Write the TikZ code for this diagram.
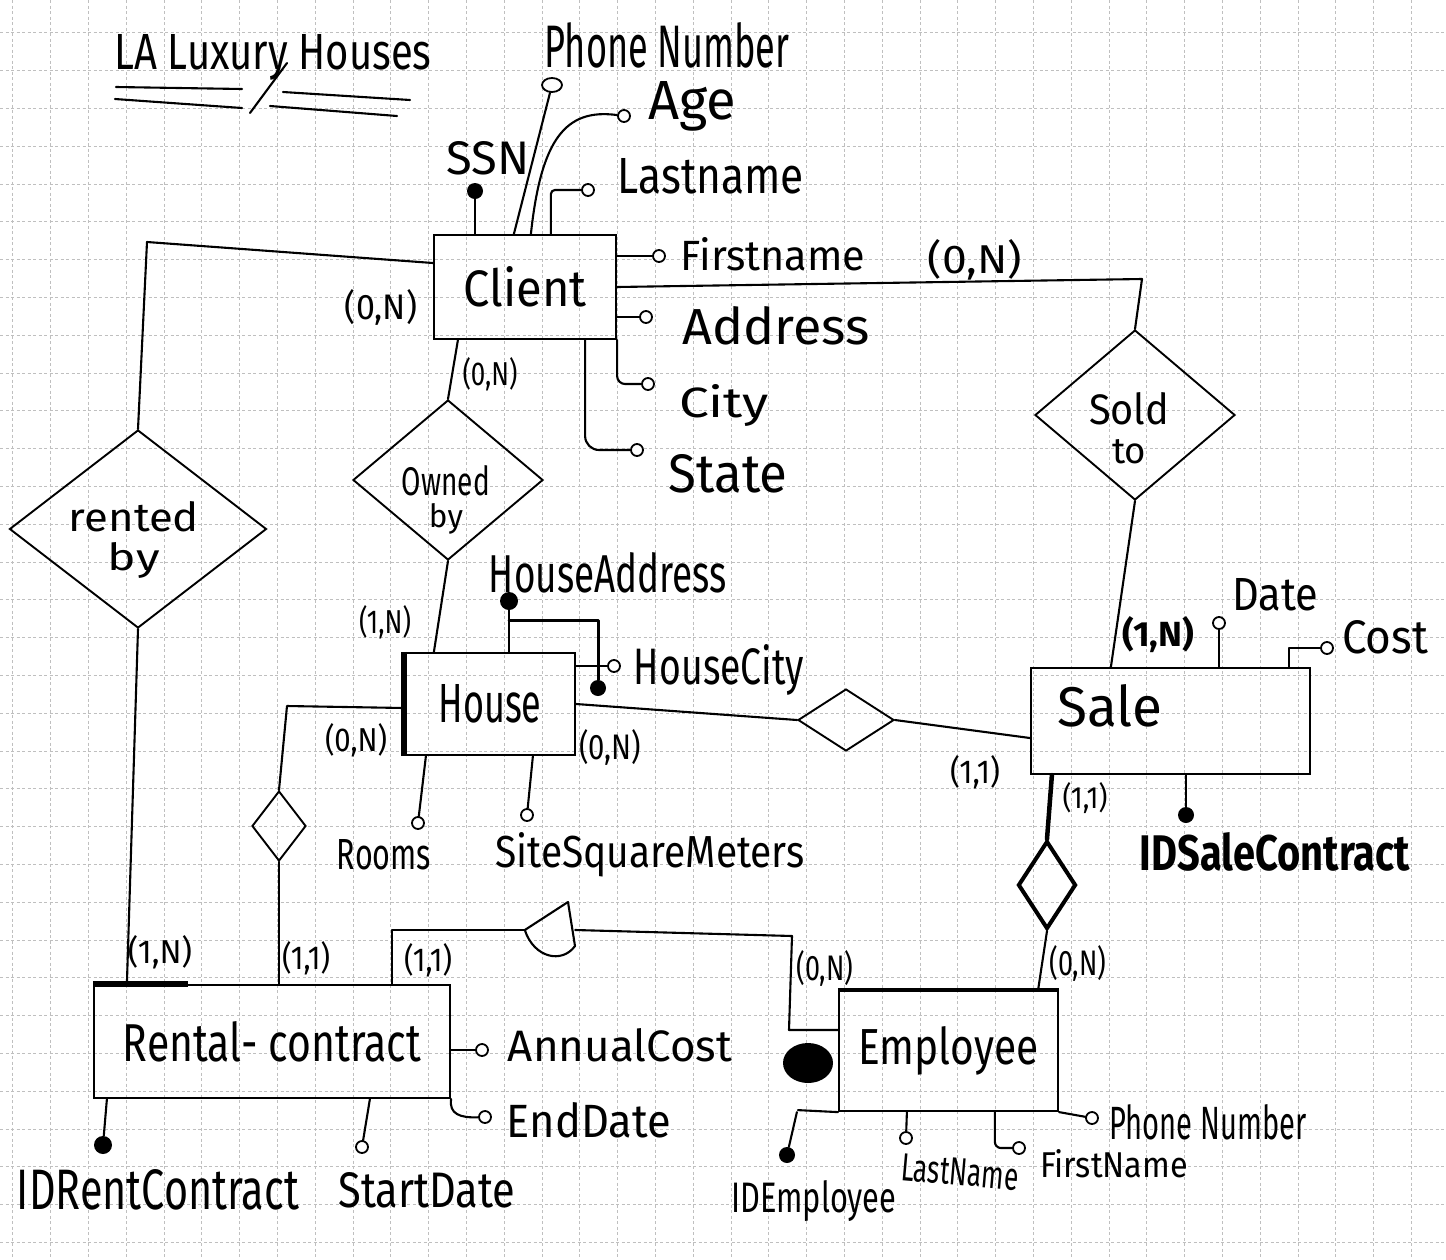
\documentclass[tikz,border=0pt]{standalone}
\usepackage{fontspec}
\setmainfont{Fira Sans}
\usetikzlibrary{shapes.geometric,calc}
\newcommand{\hwt}[3]{\resizebox{#1pt}{#2pt}{#3}}
\begin{document}
\begin{tikzpicture}[x=1pt,y=-1pt,
  gridln/.style={gray!50, line width=0.6pt, dash pattern=on 3pt off 2.5pt},
  ln/.style={line width=2.1pt, line cap=round, line join=round},
  thk/.style={line width=4.5pt, line cap=round},
  ent/.style={draw, rectangle, line width=2.2pt, inner sep=0pt},
  rel/.style={draw, diamond, line width=1.9pt, inner sep=0pt},
  attr/.style={draw, circle, line width=1.8pt, inner sep=0pt, minimum size=12pt, fill=white},
  keyattr/.style={circle, fill=black, inner sep=0pt, minimum size=16pt},
  txt/.style={inner sep=0pt}]
\useasboundingbox (0,0) rectangle (1446,1259);
\fill[white] (0,0) rectangle (1446,1259);
% grid paper
\foreach \k in {0,...,38} {\draw[gridln] ({12.7+37.8*\k},0) -- ({12.7+37.8*\k},1259);}
\foreach \k in {1,...,33} {\draw[gridln] (0,{-5.1+37.8*\k}) -- (1446,{-5.1+37.8*\k});}

% title
\node[txt] (title) at (273,57) {\hwt{317}{35}{LA Luxury Houses}};
\draw[ln] (116,87) -- (242,89);
\draw[ln] (115,99) -- (242,108);
\draw[ln] (250,113) -- (287,63);
\draw[ln] (283,92) -- (410,100);
\draw[ln] (270,106) -- (397,116);

% ---------- Client ----------
\node[ent, minimum width=182pt, minimum height=104pt] (client) at (525,287) {\hwt{123}{40}{Client}};
\node[keyattr] (ssn) at (475,191) {};
\node[attr, ellipse, minimum width=20pt, minimum height=14pt] (phone) at (552,85) {};
\node[attr] (age) at (624,116) {};
\node[attr] (lastn) at (588,190) {};
\node[attr] (firstn) at (659,256) {};
\node[attr] (addr) at (646,317) {};
\node[attr] (city) at (648,384) {};
\node[attr] (state) at (637,450) {};
\draw[ln] (ssn |- client.north) -- (ssn);
\draw[ln] ([xshift=81pt]client.north west) -- (phone);
\draw[ln] ([xshift=98pt]client.north west) .. controls (541,140) and (565,108) .. (age);
\draw[ln, rounded corners=4pt] ([xshift=118pt]client.north west) |- (lastn);
\draw[ln] (client.east |- firstn) -- (firstn);
\draw[ln] (client.east |- addr) -- (addr);
\draw[ln, rounded corners=8pt] (client.south east) |- (city);
\draw[ln, rounded corners=14pt] ([xshift=-32pt]client.south east) |- (state);
\node[txt] (tphone) at (667,45) {\hwt{245}{45}{Phone Number}};
\node[txt] (tage) at (692,106) {\hwt{88}{38}{Age}};
\node[txt] (tssn) at (488,158) {\hwt{83}{33}{SSN}};
\node[txt] (tlastn) at (711,176) {\hwt{186}{35}{Lastname}};
\node[txt] (tfirstn) at (773,254) {\hwt{185}{33}{Firstname}};
\node[txt] (taddr) at (776,326) {\hwt{187}{38}{Address}};
\node[txt] (tcity) at (724,405) {\hwt{90}{33}{City}};
\node[txt] (tstate) at (728,474) {\hwt{119}{38}{State}};

% ---------- rented by ----------
\coordinate (crn) at (147,242);
\node[rel, minimum width=257pt, minimum height=198pt] (rented) at (138,529) {};
\node[txt, align=center] (trented) at (134,540) {\hwt{130}{30}{rented}\\[10pt]\hwt{52}{28}{by}};
\draw[ln] ([yshift=24pt]client.west) -- (crn) -- (rented.north);
\node[txt] (k1) at (381,307) {\hwt{72}{30}{(0,N)}};

% ---------- owned by ----------
\node[rel, minimum width=190pt, minimum height=160pt] (owned) at (448,480) {};
\node[txt, align=center] (towned) at (446,500) {\hwt{88}{30}{Owned}\\[6pt]\hwt{34}{24}{by}};
\draw[ln] ([xshift=25pt]client.south west) -- (owned.north);
\node[txt] (k3) at (490,374) {\hwt{55}{28}{(0,N)}};

% ---------- House ----------
\node[ent, minimum width=170pt, minimum height=102pt] (house) at (490,704) {\hwt{103}{38}{House}};
\draw[line width=5.5pt] (house.north west) -- (house.south west);
\draw[ln] (owned.south) -- ([xshift=30pt]house.north west);
\node[txt] (k4) at (385,622) {\hwt{52}{28}{(1,N)}};
\node[keyattr, minimum size=18pt] (haddr) at (509,601) {};
\node[keyattr] (hkey) at (598,688) {};
\node[attr] (hcity) at (614,666) {};
\coordinate (hk1) at (509,620);
\draw[ln] (haddr |- house.north) -- (haddr);
\draw[ln, line width=3pt] (hk1) -| (hkey);
\draw[ln] (house.east |- hcity) -- (hcity);
\node[attr] (rooms) at (418,823) {};
\node[attr] (site) at (527,815) {};
\draw[ln] ([xshift=22pt]house.south west) -- (rooms);
\draw[ln] ([xshift=129pt]house.south west) -- (site);
\node[txt] (thaddr) at (608,573) {\hwt{238}{40}{HouseAddress}};
\node[txt] (thcity) at (719,670) {\hwt{170}{40}{HouseCity}};
\node[txt] (trooms) at (384,855) {\hwt{94}{30}{Rooms}};
\node[txt] (tsite) at (650,855) {\hwt{309}{35}{SiteSquareMeters}};

% House - Rental relationship
\node[rel, minimum width=54pt, minimum height=70pt] (hrrel) at (279,826) {};
\coordinate (hr1) at (287,706);
\draw[ln] ([yshift=-4pt]house.west) -- (hr1) -- (hrrel.north);
\node[txt] (k5) at (356,740) {\hwt{62}{28}{(0,N)}};

% House - Sale relationship
\node[rel, minimum width=96pt, minimum height=62pt] (hsrel) at (846,720) {};
\draw[ln] (house.east) -- (hsrel.west);
\node[txt] (k6) at (610,747) {\hwt{62}{30}{(0,N)}};

% ---------- Sale ----------
\node[ent, minimum width=279pt, minimum height=106pt] (sale) at (1170.5,721) {};
\node[txt] (tsale) at (1110,706) {\hwt{105}{42}{Sale}};
\draw[ln] (hsrel.east) -- ([yshift=-17pt]sale.west);
\node[txt] (k8) at (975,772) {\hwt{50}{28}{(1,1)}};

% Sold to
\node[rel, minimum width=200pt, minimum height=170pt] (sold) at (1135,415) {};
\node[txt, align=center] (tsold) at (1129,428) {\hwt{80}{32}{Sold}\\[14pt]\hwt{34}{24}{to}};
\coordinate (cs) at (1142,279);
\draw[ln] (client.east) -- (cs) -- (sold.north);
\draw[ln] (sold.south) -- ([xshift=81pt]sale.north west);
\node[txt] (k2) at (975,260) {\hwt{94}{34}{(0,N)}};
\node[txt] (k7) at (1158,635) {\hwt{72}{30}{\bfseries (1,N)}};

\node[attr] (date) at (1219,623) {};
\draw[ln] (date |- sale.north) -- (date);
\node[attr] (cost) at (1327,648) {};
\draw[ln] ([xshift=259pt]sale.north west) |- (cost);
\node[keyattr] (idsale) at (1186,815) {};
\draw[ln] (idsale |- sale.south) -- (idsale);
\node[txt] (tdate) at (1275,595) {\hwt{86}{32}{Date}};
\node[txt] (tcost) at (1385,637) {\hwt{86}{33}{Cost}};
\node[txt] (tidsale) at (1275,852) {\hwt{270}{38}{\bfseries IDSaleContract}};

% ---------- Employee ----------
\node[ent, minimum width=219pt, minimum height=120pt] (employee) at (948.5,1051) {\hwt{180}{38}{Employee}};
\draw[line width=4.5pt] (employee.north west) -- (employee.north east);
\draw[ln] (employee.south west) -- ++(-40,-2);

% Employee - Sale relationship
\node[rel, line width=4pt, minimum width=58pt, minimum height=88pt] (esrel) at (1047,885) {};
\draw[thk] ([xshift=22pt]sale.south west) -- (esrel.north);
\draw[ln] (esrel.south) -- ([xshift=-21pt]employee.north east);
\node[txt] (k9) at (1085,798) {\hwt{45}{26}{(1,1)}};
\node[txt] (k10) at (1078,963) {\hwt{57}{30}{(0,N)}};

\node[keyattr] (idemp) at (787,1155) {};
\draw[ln] ([xshift=-41pt]employee.south west) -- (idemp);
\node[attr] (lnemp) at (906,1138) {};
\draw[ln] ([xshift=69pt]employee.south west) -- (lnemp);
\node[attr] (fnemp) at (1019,1148) {};
\draw[ln, rounded corners=6pt] ([xshift=157pt]employee.south west) |- (fnemp);
\node[attr] (phemp) at (1092,1118) {};
\draw[ln] (employee.south east) -- (phemp);
\node[txt] (tidemp) at (814,1201) {\hwt{165}{32}{IDEmployee}};
\node[txt, rotate=-5] (tlnemp) at (960,1172) {\hwt{118}{27}{LastName}};
\node[txt] (tfnemp) at (1114,1164) {\hwt{148}{28}{FirstName}};
\node[txt] (tphemp) at (1208,1122) {\hwt{197}{35}{Phone Number}};

% ---------- Rental contract ----------
\node[ent, minimum width=356pt, minimum height=113pt] (rental) at (272,1041.5) {\hwt{298}{40}{Rental- contract}};
\draw[line width=5.5pt] (rental.north west) -- ++(95,0);
\draw[ln] (rented.south) -- ([xshift=34pt]rental.north west);
\draw[ln] (hrrel.south) -- (hrrel.south |- rental.north);
\node[txt] (k12) at (160,952) {\hwt{64}{28}{(1,N)}};
\node[txt] (k13) at (306,958) {\hwt{48}{28}{(1,1)}};
\node[txt] (k14) at (428,960) {\hwt{48}{28}{(1,1)}};

\node[attr] (annual) at (482,1050) {};
\draw[ln] (rental.east |- annual) -- (annual);
\node[attr] (enddate) at (485,1117) {};
\draw[ln] (rental.south east) .. controls (449,1114) and (460,1118) .. (enddate);
\node[keyattr, minimum size=18pt] (idrent) at (103,1145) {};
\draw[ln] ([xshift=14pt]rental.south west) -- (idrent);
\node[attr] (startdate) at (362,1147) {};
\draw[ln] ([xshift=277pt]rental.south west) -- (startdate);
\node[txt] (tannual) at (620,1045) {\hwt{224}{33}{AnnualCost}};
\node[txt] (tenddate) at (589,1120) {\hwt{164}{35}{EndDate}};
\node[txt] (tidrent) at (158,1190) {\hwt{282}{40}{IDRentContract}};
\node[txt] (tstart) at (427,1190) {\hwt{177}{35}{StartDate}};

% Rental - Employee relationship
\node[inner sep=0pt, minimum width=50pt, minimum height=56pt] (rerel) at (550,930) {};
\draw[ln] (rerel.west) -- (568,902) -- (575,946) .. controls (562,964) and (534,958) .. (rerel.west);
\coordinate (re1) at (792,936);
\coordinate (re2) at (789,1030);
\draw[ln] ([xshift=299pt]rental.north west) |- (rerel.west);
\draw[ln] (rerel.east) -- (re1) -- (re2) -- ([yshift=21pt]employee.west);
\node[txt] (k11) at (825,968) {\hwt{57}{30}{(0,N)}};
\node[ellipse, fill=black, inner sep=0pt, minimum width=50pt, minimum height=40pt] (blob) at (808,1063) {};
\end{tikzpicture}
\end{document}
